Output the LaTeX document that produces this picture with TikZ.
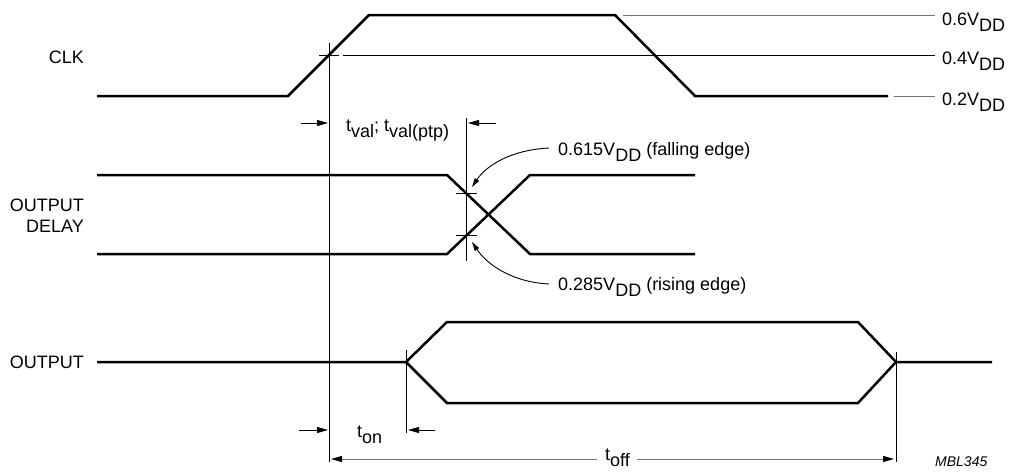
\documentclass[tikz,border=0pt]{standalone}
\usepackage{fontspec}
\setmainfont{Liberation Sans}
\usetikzlibrary{arrows.meta}
\newcommand\lo[1]{\raisebox{-6pt}{#1}}
\begin{document}
\begin{tikzpicture}[x=1pt,y=-1pt,
  sig/.style={line width=2.5pt, line join=miter},
  thinl/.style={line width=0.9pt},
  refl/.style={line width=0.9pt, draw=black!55},
  tip/.style={-{Triangle[length=11pt,width=6pt,color=black]}},
  ctip/.style={-{Triangle[length=9pt,width=5pt]}},
  lbl/.style={inner sep=0pt, font=\fontsize{18}{21}\selectfont},
]
\useasboundingbox (0,0) rectangle (1011,472);

% ---------- CLK ----------
\coordinate (c0) at (97,96);
\coordinate (c1) at (288,96);
\coordinate (c2) at (369,15);
\coordinate (c3) at (615,15);
\coordinate (c4) at (695,96);
\coordinate (c5) at (888,96);
\draw[sig] (c0) -- (c1) -- (c2) -- (c3) -- (c4) -- (c5);

\coordinate (r6a) at (623,15);  \coordinate (r6b) at (935,15);
\coordinate (r4a) at (343,55);  \coordinate (r4b) at (935,55);
\coordinate (r2a) at (894,96);  \coordinate (r2b) at (935,96);
\draw[refl] (r6a) -- (r6b);
\draw[thinl] (r4a) -- (r4b);
\draw[refl] (r2a) -- (r2b);
\coordinate (k1) at (319,55); \coordinate (k2) at (339,55);
\draw[thinl] (k1) -- (k2);

\node[lbl, anchor=base west] (l6) at (942,25) {0.6V\lo{DD}};
\node[lbl, anchor=base west] (l4) at (942,64) {0.4V\lo{DD}};
\node[lbl, anchor=base west] (l2) at (942,105) {0.2V\lo{DD}};
\node[lbl, anchor=east] (clk) at (84,57) {CLK};

% ---------- main vertical ----------
\coordinate (v1a) at (329,43);
\coordinate (v1b) at (329,462);
\draw[thinl] (v1a) -- (v1b);

% t_val
\coordinate (v2a) at (466,118);
\coordinate (v2b) at (466,261);
\draw[thinl] (v2a) -- (v2b);
\coordinate (ta1) at (301,123); \coordinate (ta2) at (328,123);
\coordinate (tb1) at (496,123); \coordinate (tb2) at (468,123);
\draw[thinl,tip] (ta1) -- (ta2);
\draw[thinl,tip] (tb1) -- (tb2);
\node[lbl, anchor=base west] (tval) at (346,131) {t\lo{val}; t\lo{val(ptp)}};

% ---------- OUTPUT DELAY ----------
\coordinate (d0) at (97,175);
\coordinate (d1) at (447,175);
\coordinate (d2) at (530,254);
\coordinate (d3) at (695,254);
\coordinate (e0) at (97,254);
\coordinate (e1) at (447,254);
\coordinate (e2) at (530,175);
\coordinate (e3) at (695,175);
\draw[sig] (d0) -- (d1) -- (d2) -- (d3);
\draw[sig] (e0) -- (e1) -- (e2) -- (e3);
\coordinate (h1a) at (456,193); \coordinate (h1b) at (477,193);
\coordinate (h2a) at (456,235); \coordinate (h2b) at (477,235);
\draw[thinl] (h1a) -- (h1b);
\draw[thinl] (h2a) -- (h2b);
\node[lbl, anchor=east, align=right] (od) at (84,216) {OUTPUT\\DELAY};

\node[lbl, anchor=base west] (lf) at (558,155) {0.615V\lo{DD} (falling edge)};
\node[lbl, anchor=base west] (lr) at (558,290) {0.285V\lo{DD} (rising edge)};
\coordinate (fa) at (549,148); \coordinate (fb) at (472,187);
\coordinate (ra) at (549,284); \coordinate (rb) at (472,242);
\draw[thinl,ctip] (fa) .. controls (510,150) and (486,166) .. (fb);
\draw[thinl,ctip] (ra) .. controls (510,282) and (486,263) .. (rb);

% ---------- OUTPUT ----------
\coordinate (o0) at (97,362);
\coordinate (o1) at (406,362);
\coordinate (o2) at (447,322);
\coordinate (o3) at (858,322);
\coordinate (o4) at (896,362);
\coordinate (o5) at (992,362);
\coordinate (o6) at (447,403);
\coordinate (o7) at (858,403);
\draw[sig] (o0) -- (o1) -- (o2) -- (o3) -- (o4) -- (o5);
\draw[sig] (o1) -- (o6) -- (o7) -- (o4);
\node[lbl, anchor=east] (out) at (84,362) {OUTPUT};

\coordinate (v3a) at (406,350); \coordinate (v3b) at (406,433);
\coordinate (v4a) at (896,352); \coordinate (v4b) at (896,462);
\draw[thinl] (v3a) -- (v3b);
\draw[thinl] (v4a) -- (v4b);

% t_on
\coordinate (na1) at (299,430); \coordinate (na2) at (328,430);
\coordinate (nb1) at (435,430); \coordinate (nb2) at (408,430);
\draw[thinl,tip] (na1) -- (na2);
\draw[thinl,tip] (nb1) -- (nb2);
\node[lbl, anchor=base west] (ton) at (357,437) {t\lo{on}};

% t_off
\node[lbl, anchor=base west] (toff) at (605,460) {t\lo{off}};
\coordinate (fl) at (331,459); \coordinate (fl2) at (597,459);
\coordinate (fr) at (894,459); \coordinate (fr2) at (637,459);
\draw[refl,tip] (fl2) -- (fl);
\draw[refl,tip] (fr2) -- (fr);

\node[inner sep=0pt, anchor=west, font=\fontsize{14}{16}\selectfont\itshape] (mbl) at (935,462) {MBL345};
\end{tikzpicture}
\end{document}
